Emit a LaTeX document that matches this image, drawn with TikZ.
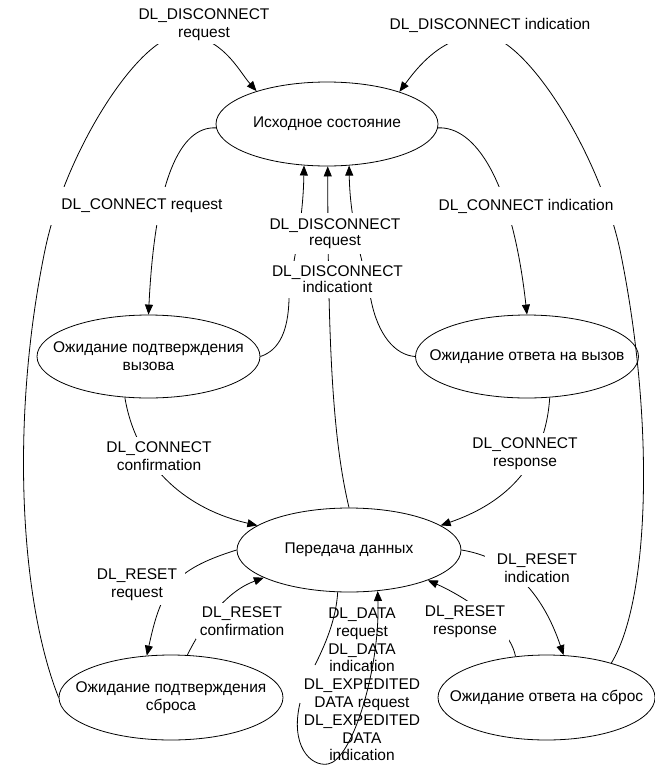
\documentclass[tikz,border=0pt]{standalone}
\usepackage{fontspec}
\setmainfont{Liberation Sans}
\usetikzlibrary{arrows.meta,shapes.geometric}
\begin{document}
\begin{tikzpicture}[x=1pt,y=-1pt,
  state/.style={draw, ellipse, line width=0.8pt, minimum width=222pt, minimum height=84pt, inner sep=0pt},
  stxt/.style={align=center, inner sep=0pt, font=\fontsize{15.5}{18}\selectfont},
  link/.style={draw, line width=0.8pt},
  arr/.style={link, -{Triangle[length=10pt,width=8pt]}},
  lbl/.style={fill=white, align=center, inner xsep=4pt, inner ysep=4pt, font=\fontsize{15.5}{18}\selectfont},
  lbltight/.style={lbl, font=\fontsize{15.5}{16}\selectfont},
  lblclear/.style={align=center, inner sep=0pt, font=\fontsize{15.5}{17.8}\selectfont},
]
\useasboundingbox (0,0) rectangle (655,766);

% states
\node[state] (e1) at (327,124) {};
\node[state, minimum width=223pt, minimum height=83pt] (e2) at (148.5,356.5) {};
\node[state, minimum width=223pt, minimum height=83pt] (e3) at (527,356.5) {};
\node[state, minimum width=224pt] (e4) at (349,550) {};
\node[state, minimum width=224pt, minimum height=85pt] (e5) at (171,697.5) {};
\node[state, minimum width=217pt, minimum height=85pt] (e6) at (546.5,697.5) {};

\node[stxt] (t1) at (e1) {Исходное состояние};
\node[stxt] (t2) at (e2) {Ожидание подтверждения\\вызова};
\node[stxt] (t3) at (e3) {Ожидание ответа на вызов};
\node[stxt] (t4) at (e4) {Передача данных};
\node[stxt] (t5) at (e5) {Ожидание подтверждения\\сброса};
\node[stxt] (t6) at (e6) {Ожидание ответа на сброс};

% outer loops back to the initial state
\draw[arr] (e5.180) .. controls (20,600) and (10,420) .. (45,250)
  .. controls (65.6,150) and (140,35) .. (181,35)
  .. controls (222,35) and (238,70) .. (e1.155);
\draw[arr] (e6.28) .. controls (650,600) and (655,420) .. (620,250)
  .. controls (598.4,150) and (524,35) .. (483,35)
  .. controls (442,35) and (417,68) .. (e1.24);

% connection set-up
\draw[arr] (e1.182) .. controls (180,126) and (155,180) .. (e2.90);
\draw[arr] (e1.358) .. controls (475,126) and (512,180) .. (e3.90);
\draw[arr] (e2.240) .. controls (137,470) and (190,510) .. (e4.165);
\draw[arr] (e3.299) .. controls (545,470) and (500,505) .. (e4.15);

% disconnect from the middle states
\draw[arr] (e2.0) .. controls (280,350) and (288,330) .. (289,300)
  .. controls (290,270) and (303,230) .. (e1.241);
\draw[arr] (e4.90) .. controls (333,440) and (328,350) .. (e1.271);
\draw[arr] (e3.180) .. controls (395,355) and (378,335) .. (371,300)
  .. controls (364,265) and (350,225) .. (e1.298);

% reset
\draw[arr] (e4.180) .. controls (172,570) and (161,590) .. (e5.120);
\draw[arr] (e5.69) .. controls (203,624) and (225,592) .. (e4.198);
\draw[arr] (e4.0) .. controls (525,560) and (550,615) .. (e6.68);
\draw[arr] (e6.127) .. controls (509,623) and (459,594) .. (e4.339);

% data transfer self-loop
\coordinate (k1) at (315,665);
\coordinate (k2) at (300,703);
\draw[link] (e4.255) .. controls (336,620) and (325,645) .. (k1);
\draw[arr] (k2) .. controls (290,745) and (310,767) .. (328,764)
  .. controls (352,760) and (380,670) .. (e4.305);

% labels
\node[lbl, inner ysep=3pt] (la) at (204,24.5) {DL\_DISCONNECT\\request};
\node[lbl, inner ysep=11pt] (lb) at (490,25.5) {DL\_DISCONNECT indication};
\node[lbl, inner xsep=20pt, inner ysep=12pt] (lc) at (142,206) {DL\_CONNECT request};
\node[lbl, inner xsep=12pt, inner ysep=12pt] (ld) at (526,206) {DL\_CONNECT indication};
\node[lbltight, inner ysep=5.5pt] (lm1) at (335,233.5) {DL\_DISCONNECT\\request};
\node[lbltight, inner ysep=5.5pt] (lm2) at (337.5,279.5) {DL\_DISCONNECT\\indicationt};
\node[lbl, inner ysep=5pt] (le) at (159,456) {DL\_CONNECT\\confirmation};
\node[lbl, inner ysep=5pt] (lf) at (525,454) {DL\_CONNECT\\response};
\node[lbl, inner xsep=8pt] (lg) at (137,585) {DL\_RESET\\request};
\node[lbl] (lh) at (242,621) {DL\_RESET\\confirmation};
\node[lbl, inner xsep=12pt, inner ysep=5pt] (li) at (537,568) {DL\_RESET\\indication};
\node[lbl] (lj) at (465,621.5) {DL\_RESET\\response};
\node[lblclear] (lk) at (362,684.5) {DL\_DATA\\request\\DL\_DATA\\indication\\DL\_EXPEDITED\\DATA request\\DL\_EXPEDITED\\DATA\\indication};
\end{tikzpicture}
\end{document}
